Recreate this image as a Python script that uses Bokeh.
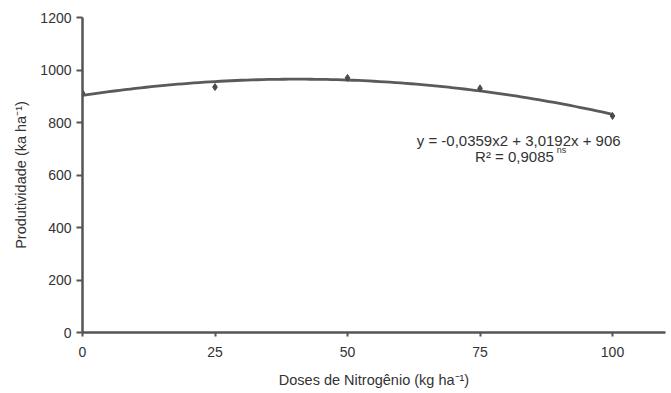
from bokeh.plotting import figure
from bokeh.models import Range1d, FixedTicker, Label
from bokeh.embed import file_html
from bokeh.resources import INLINE
import numpy as np

# Data
doses = [0, 25, 50, 75, 100]
produtividade = [912, 935, 970, 930, 825]
x_ticks = [0, 25, 50, 75, 100]
y_ticks = [0, 200, 400, 600, 800, 1000, 1200]
eq_text = "y = -0,0359x2 + 3,0192x + 906"
r2_text = "R\u00b2 = 0,9085"
ns_text = "ns"

TXT = "#333333"
AX = "#555555"
FONT = "Liberation Sans"

p = figure(width=668, height=390, output_backend="svg", toolbar_location=None,
           x_range=Range1d(0, 110), y_range=Range1d(0, 1200),
           min_border_left=82, min_border_right=3, min_border_top=17, min_border_bottom=57)
p.outline_line_color = None
p.xgrid.visible = False
p.ygrid.visible = False
p.background_fill_color = "white"

# quadratic trend line fitted to the points
coefs = np.polyfit(doses, produtividade, 2)
xs = np.linspace(0, 100, 101)
ys = np.polyval(coefs, xs)
p.line(xs, ys, line_color="#5a5a5a", line_width=2.8)
p.scatter(doses, produtividade, marker="diamond", size=7, color="#4a4a4a")

for ax in (p.xaxis[0], p.yaxis[0]):
    ax.axis_line_color = AX
    ax.axis_line_width = 2.5
    ax.major_tick_line_color = AX
    ax.major_tick_line_width = 2
    ax.minor_tick_line_color = None
    ax.major_tick_in = 0
    ax.major_label_text_font = FONT
    ax.major_label_text_font_size = "14px"
    ax.major_label_text_color = TXT
    ax.axis_label_text_font = FONT
    ax.axis_label_text_font_size = "14.5px"
    ax.axis_label_text_color = TXT
    ax.axis_label_text_font_style = "normal"

p.xaxis.ticker = FixedTicker(ticks=x_ticks)
p.yaxis.ticker = FixedTicker(ticks=y_ticks)
p.xaxis.major_tick_out = 4
p.yaxis.major_tick_out = 6
p.xaxis.major_label_standoff = 10
p.yaxis.major_label_standoff = 5
p.xaxis.axis_label = "Doses de Nitrog\u00eanio (kg ha\u207b\u00b9)"
p.yaxis.axis_label = "Produtividade (ka ha\u207b\u00b9)"
p.xaxis.axis_label_standoff = 12
p.yaxis.axis_label_standoff = 8

p.add_layout(Label(x=82.3, y=733, text=eq_text, text_align="center", text_baseline="middle",
                   text_font=FONT, text_font_size="15px", text_color=TXT))
p.add_layout(Label(x=81.5, y=669, text=r2_text, text_align="center", text_baseline="middle",
                   text_font=FONT, text_font_size="15px", text_color=TXT))
p.add_layout(Label(x=89.5, y=694, text=ns_text, text_align="left", text_baseline="middle",
                   text_font=FONT, text_font_size="9px", text_color=TXT))

open("out.html", "w").write(file_html(p, INLINE))
